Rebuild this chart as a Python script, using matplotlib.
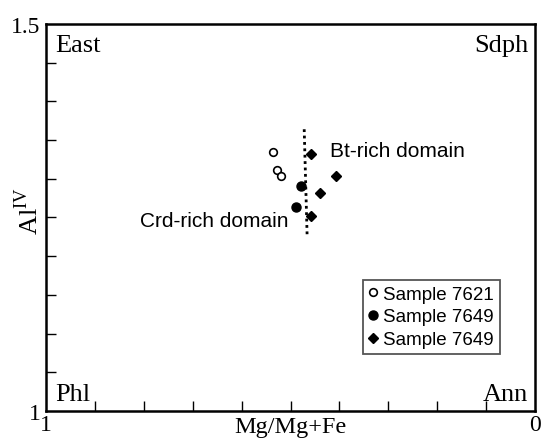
import matplotlib
matplotlib.use("Agg")
from matplotlib import pyplot as plt
from matplotlib.ticker import MultipleLocator, FixedLocator

# Mg/(Mg+Fe) and Al(IV) values
open_x = [0.536, 0.528, 0.519]
open_y = [1.334, 1.311, 1.303]
filled_x = [0.479, 0.489]
filled_y = [1.291, 1.263]
diamond_x = [0.459, 0.407, 0.439, 0.458]
diamond_y = [1.332, 1.303, 1.282, 1.252]
divide_x = [0.472, 0.466]
divide_y = [1.364, 1.226]

legend_labels = ["Sample 7621", "Sample 7649", "Sample 7649"]
corner_labels = {"East": (0, 1), "Sdph": (1, 1), "Phl": (0, 0), "Ann": (1, 0)}

SERIF = "Liberation Serif"
SANS = "Liberation Sans"
plt.rcParams["mathtext.fontset"] = "custom"
plt.rcParams["mathtext.rm"] = SERIF

fig = plt.figure(figsize=(5.43, 4.39), dpi=100)
ax = fig.add_axes([0.0847, 0.0615, 0.9006, 0.8816])

ax.plot(divide_x, divide_y, color="black", lw=2, ls=(0, (1, 1.3)), zorder=1)
ax.plot(open_x, open_y, "o", ms=5.5, mfc="white", mec="black", mew=1.2,
        label=legend_labels[0], zorder=3)
ax.plot(filled_x, filled_y, "o", ms=6.5, color="black", label=legend_labels[1], zorder=3)
ax.plot(diamond_x, diamond_y, "D", ms=5.5, color="black", label=legend_labels[2], zorder=3)

ax.set_xlim(1, 0)
ax.set_ylim(1, 1.5)

ax.xaxis.set_major_locator(FixedLocator([1, 0]))
ax.yaxis.set_major_locator(FixedLocator([1, 1.5]))
ax.xaxis.set_minor_locator(MultipleLocator(0.1))
ax.yaxis.set_minor_locator(MultipleLocator(0.05))
ax.set_xticklabels(["1", "0"])
ax.set_yticklabels(["1", "1.5"])
ax.tick_params(which="major", length=0, pad=4, labelsize=17)
ax.tick_params(axis="x", which="major", pad=2)
ax.tick_params(which="minor", direction="in", length=7, width=1)
ax.tick_params(which="both", top=False, right=False)
for lab in ax.get_xticklabels() + ax.get_yticklabels():
    lab.set_fontfamily(SERIF)
for sp in ax.spines.values():
    sp.set_linewidth(1.8)

ax.set_xlabel("Mg/Mg+Fe", fontsize=17.5, fontfamily=SERIF)
ax.xaxis.set_label_coords(0.5, -0.013)
ax.xaxis.label.set_va("top")
ax.set_ylabel(r"Al$^{\mathrm{IV}}$", fontsize=19, fontfamily=SERIF)
ax.yaxis.set_label_coords(-0.035, 0.52)
ax.yaxis.label.set_va("center")

for name, (cx, cy) in corner_labels.items():
    ax.text(0.018 if cx == 0 else 0.986, 0.975 if cy == 1 else 0.015, name,
            transform=ax.transAxes, fontsize=19, fontfamily=SERIF,
            ha="left" if cx == 0 else "right", va="top" if cy == 1 else "bottom")

ax.text(0.419, 1.336, "Bt-rich domain", fontsize=15, fontfamily=SANS, ha="left", va="center")
ax.text(0.808, 1.246, "Crd-rich domain", fontsize=15, fontfamily=SANS, ha="left", va="center")

leg = ax.legend(loc="upper left", bbox_to_anchor=(0.6477, 0.3385), borderaxespad=0,
                prop={"family": SANS, "size": 13.5}, fancybox=False, edgecolor="#555555",
                handlelength=0.5, handletextpad=0.3, labelspacing=0.3,
                borderpad=0.3, framealpha=1)
leg.get_frame().set_linewidth(1.3)

fig.savefig("out.png", dpi=100)
